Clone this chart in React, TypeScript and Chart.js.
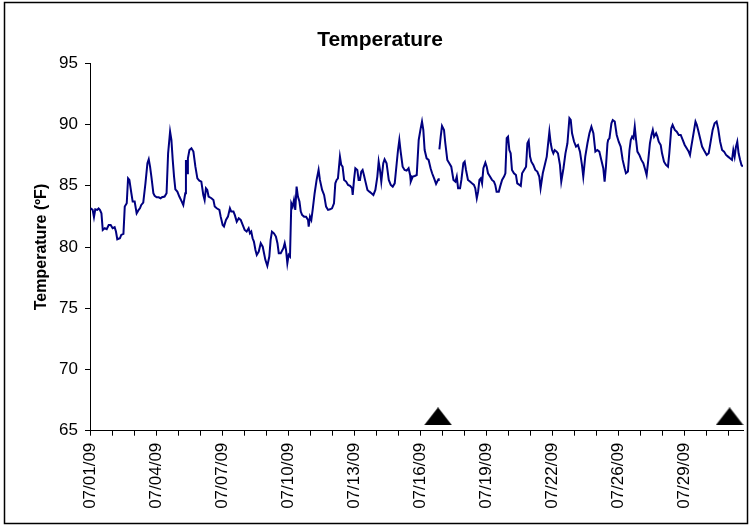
import React, { useEffect, useRef } from 'react';
import { Chart, registerables } from 'chart.js';

Chart.register(...registerables);

const chartTitle = 'Temperature';
const yAxisTitle = 'Temperature (ºF)';
const xTickLabels = ['07/01/09', '07/04/09', '07/07/09', '07/10/09', '07/13/09', '07/16/09', '07/19/09', '07/22/09', '07/26/09', '07/29/09'];
const yMin = 65;
const yMax = 95;
const yStep = 5;
const xTickCount = 30;
const xEnd = 29.68;

// x = position in tick intervals from 07/01/09, y = temperature in °F
const part1Day = [0.03, 0.12, 0.18, 0.24, 0.33, 0.39, 0.45, 0.52, 0.58, 0.67, 0.76, 0.85, 0.94, 1.03, 1.12, 1.18, 1.24, 1.36, 1.42, 1.52, 1.58, 1.67, 1.73, 1.79, 1.88, 1.94, 2.03, 2.12, 2.21, 2.27, 2.33, 2.42, 2.52, 2.61, 2.67, 2.73, 2.79, 2.88, 2.94, 3.03, 3.12, 3.21, 3.27, 3.39, 3.48, 3.55, 3.64, 3.70, 3.76, 3.82, 3.88, 3.97, 4.06, 4.15, 4.24, 4.33, 4.36, 4.41, 4.45, 4.52, 4.61, 4.70, 4.79, 4.88, 4.97, 5.06, 5.15, 5.21, 5.27, 5.33, 5.39, 5.52, 5.61, 5.67, 5.76];
const part1Temp = [83.16, 83.03, 82.43, 83.08, 83.03, 83.14, 83.03, 82.75, 81.39, 81.53, 81.45, 81.80, 81.80, 81.53, 81.61, 81.26, 80.63, 80.71, 80.99, 81.07, 83.30, 83.57, 85.61, 85.48, 84.39, 83.71, 83.71, 82.75, 83.03, 83.16, 83.43, 83.63, 85.20, 86.84, 87.16, 86.56, 85.75, 84.39, 84.17, 84.06, 84.06, 83.98, 84.06, 84.12, 84.39, 87.65, 89.42, 88.74, 87.11, 85.75, 84.71, 84.52, 84.12, 83.79, 83.43, 84.39, 87.11, 86.02, 87.24, 87.92, 88.06, 87.79, 86.56, 85.61, 85.42, 85.34, 84.25, 83.84, 84.80, 84.66, 84.12, 83.98, 83.84, 83.30, 83.16];

const part2Day = [5.88, 5.94, 6.03, 6.09, 6.18, 6.27, 6.36, 6.42, 6.52, 6.58, 6.67, 6.76, 6.85, 6.94, 7.03, 7.12, 7.21, 7.27, 7.33, 7.39, 7.45, 7.52, 7.58, 7.67, 7.76, 7.85, 7.91, 7.97, 8.06, 8.15, 8.21, 8.27, 8.36, 8.45, 8.52, 8.58, 8.67, 8.79, 8.85, 8.91, 8.97, 9.03, 9.09, 9.15, 9.21, 9.27, 9.33, 9.39, 9.45, 9.52, 9.58, 9.64, 9.73, 9.82, 9.91, 9.94, 10.00, 10.06, 10.12, 10.21, 10.30, 10.39, 10.45, 10.55, 10.64, 10.73, 10.82, 10.91, 11.00, 11.09, 11.15, 11.21, 11.27, 11.36, 11.42, 11.48, 11.55, 11.64];
const part2Temp = [83.03, 82.48, 81.80, 81.67, 82.21, 82.48, 83.16, 82.89, 82.89, 82.62, 82.07, 82.35, 82.21, 81.80, 81.39, 81.26, 81.53, 81.12, 81.26, 80.71, 80.44, 79.76, 79.35, 79.63, 80.31, 80.03, 79.49, 78.95, 78.46, 79.22, 80.58, 81.26, 81.12, 80.85, 80.31, 79.49, 79.49, 79.90, 80.31, 79.76, 78.67, 79.35, 79.22, 83.57, 83.30, 83.84, 83.03, 84.93, 84.12, 83.71, 82.89, 82.62, 82.48, 82.48, 82.21, 81.67, 82.48, 82.21, 83.03, 84.39, 85.48, 86.29, 85.48, 84.66, 84.25, 83.30, 83.03, 83.08, 83.16, 83.57, 85.20, 85.48, 85.61, 87.38, 86.70, 86.56, 85.48, 85.34];

const part3Day = [11.73, 11.82, 11.91, 11.94, 12.00, 12.06, 12.15, 12.21, 12.27, 12.33, 12.39, 12.45, 12.52, 12.61, 12.70, 12.79, 12.88, 12.97, 13.06, 13.12, 13.18, 13.24, 13.33, 13.39, 13.48, 13.58, 13.67, 13.76, 13.85, 13.94, 14.00, 14.06, 14.12, 14.21, 14.30, 14.39, 14.48, 14.55, 14.58, 14.67, 14.76, 14.85, 14.94, 15.03, 15.09, 15.15, 15.21, 15.30, 15.39, 15.48, 15.55, 15.64, 15.73, 15.82, 15.85];
const part3Temp = [85.07, 84.99, 84.80, 84.25, 85.48, 86.43, 86.29, 85.48, 85.48, 86.16, 86.29, 85.88, 85.34, 84.66, 84.52, 84.39, 84.25, 84.66, 85.75, 86.97, 86.29, 85.34, 86.84, 87.16, 86.84, 85.48, 85.07, 84.93, 85.20, 86.84, 87.92, 88.74, 87.79, 86.56, 86.29, 86.24, 86.43, 85.88, 85.34, 85.75, 85.80, 85.88, 88.74, 89.69, 90.24, 89.56, 87.92, 87.24, 87.11, 86.43, 86.02, 85.61, 85.15, 85.48, 85.61];

const gapDay = [15.865];

const part4Day = [15.88, 15.94, 16.00, 16.09, 16.15, 16.24, 16.33, 16.42, 16.52, 16.61, 16.67, 16.73, 16.82, 16.88, 16.97, 17.03, 17.09, 17.18, 17.27, 17.36, 17.45, 17.51, 17.58, 17.64, 17.70, 17.76, 17.82, 17.88, 17.97, 18.03, 18.09, 18.18, 18.27, 18.36, 18.42, 18.48, 18.58, 18.64, 18.73, 18.82, 18.88, 18.94, 19.00, 19.06, 19.12, 19.18, 19.27, 19.36, 19.42, 19.52, 19.58, 19.64, 19.73, 19.82, 19.88, 19.94, 20.00, 20.06, 20.15, 20.24, 20.33, 20.42, 20.48, 20.58, 20.67, 20.76, 20.88, 20.94, 21.00, 21.06, 21.12, 21.21, 21.27, 21.36, 21.42, 21.52, 21.61, 21.70, 21.79, 21.85, 21.91, 22.00, 22.09, 22.18, 22.27, 22.36, 22.42, 22.51, 22.61, 22.70, 22.79, 22.88, 22.97, 23.06, 23.15, 23.24, 23.33, 23.39, 23.45, 23.52];
const part4Temp = [87.98, 89.01, 89.88, 89.56, 88.47, 87.11, 86.84, 86.56, 85.48, 85.34, 85.75, 84.80, 84.80, 85.48, 86.84, 86.97, 86.29, 85.48, 85.34, 85.20, 85.07, 84.80, 83.98, 84.52, 85.48, 85.61, 85.20, 86.43, 86.89, 86.56, 86.02, 85.75, 85.48, 85.34, 85.07, 84.52, 84.52, 84.93, 85.48, 85.75, 86.02, 88.88, 89.01, 87.92, 87.65, 86.29, 86.02, 85.88, 85.20, 85.07, 84.99, 86.02, 86.29, 86.56, 88.47, 88.69, 87.38, 86.97, 86.70, 86.29, 86.16, 85.75, 84.80, 86.02, 86.70, 87.38, 89.42, 88.47, 87.92, 87.65, 87.92, 87.79, 87.65, 86.70, 85.34, 86.43, 87.65, 88.47, 90.51, 90.37, 89.29, 88.61, 88.20, 88.33, 87.79, 86.70, 85.75, 87.38, 88.47, 89.29, 89.83, 89.29, 87.79, 87.92, 87.79, 87.11, 86.43, 85.34, 86.56, 88.47];

const part5Day = [23.55, 23.61, 23.70, 23.76, 23.85, 23.94, 24.03, 24.12, 24.21, 24.30, 24.36, 24.45, 24.52, 24.58, 24.64, 24.70, 24.76, 24.82, 24.88, 24.97, 25.06, 25.15, 25.24, 25.30, 25.36, 25.45, 25.52, 25.58, 25.64, 25.73, 25.79, 25.85, 25.94, 26.00, 26.09, 26.18, 26.27, 26.33, 26.42, 26.48, 26.58, 26.67, 26.76, 26.85, 26.94, 27.03, 27.12, 27.21, 27.27, 27.33, 27.42, 27.52, 27.58, 27.64, 27.73, 27.82, 27.94, 28.03, 28.12, 28.21, 28.30, 28.39, 28.48, 28.55, 28.64, 28.73, 28.82, 28.91, 29.00, 29.09, 29.18, 29.24, 29.30, 29.36, 29.42, 29.48, 29.55, 29.61, 29.67];
const part5Temp = [88.74, 88.88, 90.10, 90.37, 90.24, 89.15, 88.60, 88.20, 87.11, 86.43, 86.02, 86.16, 87.92, 88.74, 89.01, 88.88, 89.83, 88.74, 87.79, 87.52, 87.11, 86.84, 86.29, 85.88, 86.84, 88.47, 89.15, 89.56, 89.01, 89.29, 89.01, 88.60, 88.33, 87.65, 86.97, 86.70, 86.56, 87.65, 89.69, 89.97, 89.56, 89.42, 89.15, 89.15, 88.74, 88.33, 88.06, 87.79, 87.52, 88.20, 89.15, 90.24, 89.97, 89.56, 88.88, 88.20, 87.79, 87.52, 87.65, 88.60, 89.56, 90.10, 90.24, 89.69, 88.60, 87.92, 87.79, 87.52, 87.38, 87.24, 87.11, 87.92, 87.38, 88.20, 88.60, 87.65, 87.11, 86.70, 86.56];

// download markers (triangles on the axis)
const markerDay = [15.82, 29.07];
const markerTemp = [66.17, 66.17];

const toPoints = (days: number[], temps: (number | null)[]) => days.map((d, i) => ({ x: d, y: temps[i] }));

const framePlugin = {
  id: 'frame',
  beforeDraw(chart: any) {
    const ctx = chart.ctx;
    ctx.save();
    ctx.fillStyle = '#ffffff';
    ctx.fillRect(0, 0, chart.width, chart.height);
    ctx.restore();
  },
  afterDraw(chart: any) {
    const ctx = chart.ctx;
    ctx.save();
    ctx.strokeStyle = '#000000';
    ctx.lineWidth = 1.5;
    ctx.strokeRect(4.5, 2.5, 743, 521);
    ctx.restore();
  },
};

export default function App() {
  const canvasRef = useRef<HTMLCanvasElement | null>(null);

  useEffect(() => {
    if (!canvasRef.current) return;
    const tri = document.createElement('canvas');
    tri.width = 28;
    tri.height = 18;
    const tc = tri.getContext('2d');
    if (tc) {
      tc.fillStyle = '#000000';
      tc.beginPath();
      tc.moveTo(14, 0);
      tc.lineTo(28, 18);
      tc.lineTo(0, 18);
      tc.closePath();
      tc.fill();
    }

    const lineData = [
      ...toPoints(part1Day, part1Temp),
      ...toPoints(part2Day, part2Temp),
      ...toPoints(part3Day, part3Temp),
      ...toPoints(gapDay, [null]),
      ...toPoints(part4Day, part4Temp),
      ...toPoints(part5Day, part5Temp),
    ];

    const font = "'Liberation Sans', Arial, sans-serif";

    const chart = new Chart(canvasRef.current, {
      type: 'line',
      data: {
        datasets: [
          {
            label: 'Temperature',
            data: lineData as any,
            borderColor: '#000080',
            borderWidth: 2,
            pointRadius: 0,
            tension: 0,
            spanGaps: false,
            fill: false,
          },
          {
            label: 'Markers',
            data: toPoints(markerDay, markerTemp) as any,
            showLine: false,
            pointStyle: tri as any,
            pointRadius: 10,
            borderWidth: 0,
            backgroundColor: '#000000',
            borderColor: '#000000',
            clip: false as any,
          },
        ],
      },
      options: {
        animation: false,
        responsive: false,
        devicePixelRatio: 1,
        layout: { padding: { left: 17, right: 8, top: 0, bottom: 4 }, autoPadding: false },
        plugins: {
          legend: { display: false },
          tooltip: { enabled: false },
          title: {
            display: true,
            text: chartTitle,
            color: '#000000',
            font: { family: font, size: 21, weight: 'bold', lineHeight: 1.2 },
            padding: { top: 27.4, bottom: 10.7 },
          },
        },
        scales: {
          x: {
            type: 'linear',
            min: 0,
            max: xEnd,
            afterBuildTicks: (scale: any) => {
              scale.ticks = Array.from({ length: xTickCount }, (_, i) => ({ value: i }));
            },
            afterFit: (scale: any) => {
              scale.height = 527 - 4 - 430.7;
              scale.paddingLeft = 0;
              scale.paddingRight = 0;
            },
            ticks: {
              autoSkip: false,
              maxRotation: 90,
              minRotation: 90,
              padding: 7,
              color: '#000000',
              font: { family: font, size: 17 },
              callback: (v: any) => {
                const n = Math.round(Number(v));
                return n % 3 === 0 && xTickLabels[n / 3] ? xTickLabels[n / 3] : '';
              },
            },
            grid: { display: true, drawOnChartArea: false, drawTicks: true, tickLength: 5, color: '#000000' },
            border: { display: true, color: '#000000', width: 1 },
          },
          y: {
            type: 'linear',
            min: yMin,
            max: yMax,
            afterFit: (scale: any) => {
              scale.width = 73;
              scale.paddingTop = 0;
              scale.paddingBottom = 0;
            },
            ticks: {
              stepSize: yStep,
              padding: 7,
              color: '#000000',
              font: { family: font, size: 17 },
            },
            grid: { display: true, drawOnChartArea: false, drawTicks: true, tickLength: 5, color: '#000000' },
            border: { display: true, color: '#000000', width: 1 },
            title: {
              display: true,
              text: yAxisTitle,
              color: '#000000',
              font: { family: font, size: 16, weight: 'bold', lineHeight: 1.2 },
              padding: { top: 15.4, bottom: 0 },
            },
          },
        },
      },
      plugins: [framePlugin],
    });

    return () => chart.destroy();
  }, []);

  return (
    <div style={{ position: 'absolute', left: 0, top: 0, width: 751, height: 527 }}>
      <canvas ref={canvasRef} width={751} height={527} style={{ display: 'block' }} />
    </div>
  );
}
